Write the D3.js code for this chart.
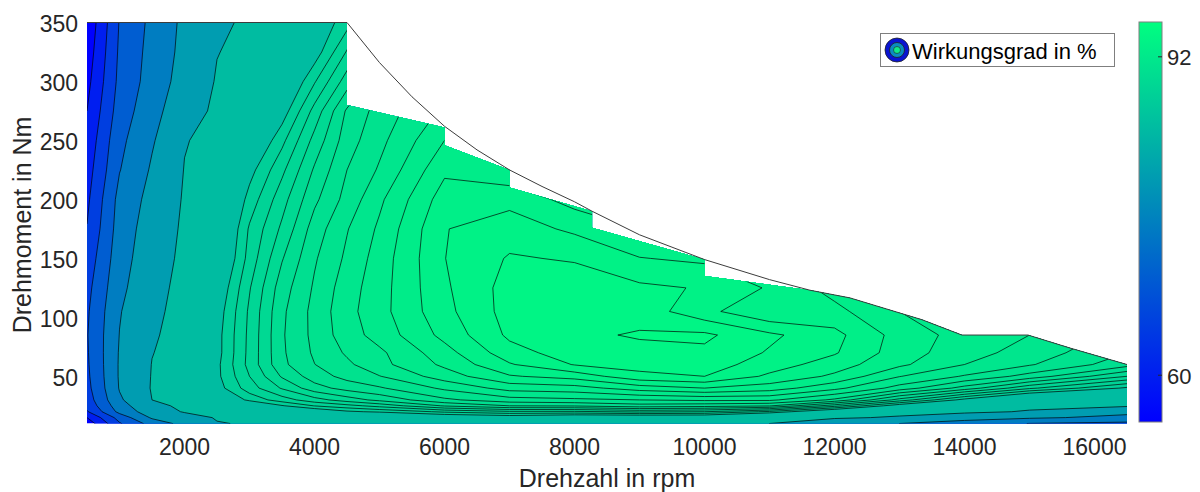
<!DOCTYPE html>
<html><head><meta charset="utf-8">
<script src="https://cdn.jsdelivr.net/npm/d3@7"></script>
<style>body{margin:0;background:#fff}svg{display:block}text{font-family:"Liberation Sans",Arial,sans-serif}</style>
</head><body><svg id="c" width="1200" height="492"></svg>
<script>
// ---------- data ----------
const rpm = [500,1000,1500,2000,2500,3000,3500,4000,4500,5000,6000,7000,8000,9000,10000,11000,12000,13000,14000,15000,16500];
const torque = [10,15,20,25,30,40,50,60,70,85,105,125,150,175,200,225,250,275,300,325,350];
const levels = [60,65,70,75,80,85,88,88.5,89,89.5,90,90.5,91,91.5,92,92.5,93,93.5,94,94.5];
// efficiency in %, one row per torque value, columns follow rpm
const eff10  = [57,69.5,77,81.7,84.8,85.3,85.7,86.0,86.2,86.3,86.5,86.5,86.5,86.3,85.8,85.0,82.3,80.0,77.5,74.9,73.8];
const eff15  = [60,72,80.7,83.3,85.3,85.6,86.0,86.3,86.5,86.6,87.3,87.5,87.2,87.2,87.2,86.4,85.5,84.6,82.3,80.7,78.8];
const eff20  = [64.5,76.4,82.9,85.3,85.76,86.25,86.75,87.4,87.9,88.1,88.6,88.9,88.9,89.1,89.0,88.4,87.2,86.1,85.8,84.7,81.2];
const eff25  = [66.5,77.9,84.2,85.6,86.26,87.05,87.95,88.52,88.83,89.18,90.05,90.5,90.55,90.8,90.7,90.55,89.2,87.6,86.8,85.8,85.5];
const eff30  = [67.5,79.3,85.0,86.1,87.1,88.16,88.76,89.3,89.75,90.14,90.9,91.3,91.4,91.5,91.6,91.6,90.9,89.3,87.8,86.5,86.3];
const eff40  = [68.5,80.3,85.3,86.45,87.76,88.77,89.55,90.3,90.69,90.94,91.6,92.2,92.3,92.75,93.0,92.75,92.15,91.3,90.3,89.1,87.9];
const eff50  = [69,80.5,85.2,86.5,87.87,89.0,90.06,90.75,91.17,91.48,92.25,92.95,93.2,93.85,94.0,93.4,92.9,92.02,91.45,90.8,89.5];
const eff60  = [69.3,80.5,85.1,86.45,87.87,89.17,90.38,90.99,91.4,91.85,92.6,93.45,94.03,94.2,94.25,93.75,93.25,92.6,92.0,91.55,90.7];
const eff70  = [69.5,80.4,84.9,86.4,87.8,89.15,90.42,91.08,91.57,91.9,92.8,93.8,94.25,94.35,94.4,93.95,93.55,92.75,92.2,91.8,91.0];
const eff85  = [69.7,80.1,84.6,86.3,87.8,89.13,90.44,91.14,91.77,92.2,93.15,94.1,94.4,94.55,94.6,94.1,93.65,92.8,92.3,92.0,91.3];
const eff105 = [69.3,79.7,84.2,86.2,87.7,89.09,90.4,91.16,91.84,92.32,93.35,94.2,94.45,94.3,93.65,93.05,93.15,92.5,92.1,91.7,91.0];
const eff125 = [68.5,78.8,83.8,86.05,87.5,88.96,90.27,91.07,91.77,92.29,93.42,94.2,94.3,94.1,93.96,93.44,92.8,92.1,91.8,91.4,90.7];
const eff150 = [67,77.9,83.2,85.8,87.14,88.7,89.96,90.94,91.6,92.23,93.49,94.05,93.95,93.52,93.4,92.9,92.4,91.7,91.4,91.0,90.3];
const eff175 = [65.2,77.2,82.6,85.6,86.96,88.57,89.6,90.74,91.47,92.09,93.48,93.75,93.4,93.0,92.7,92.4,92.0,91.3,91.0,90.6,89.9];
const eff200 = [64,76.6,81.6,85.4,86.8,88.2,89.3,90.39,91.18,91.9,93.25,93.35,92.8,92.5,92.1,92.0,91.6,90.9,90.6,90.2,89.5];
const eff225 = [62.8,74.8,80.6,85.14,86.47,87.8,88.88,90.07,91.0,91.56,92.9,92.6,92.2,92.0,91.6,91.5,91.2,90.5,90.2,89.8,89.1];
const eff250 = [61.5,73.75,79.5,84.8,86.07,87.2,88.36,89.67,90.77,91.36,92.5,92.0,91.7,91.5,91.1,91.0,90.8,90.1,89.8,89.4,88.7];
const eff275 = [60,72.3,78.3,83.3,85.7,86.7,87.7,89.18,90.58,91.2,92.1,91.5,91.2,91.0,90.7,90.6,90.4,89.7,89.4,89.0,88.3];
const eff300 = [58.5,71.3,77.1,82.1,85.3,86.2,87.16,88.45,89.76,90.8,91.7,91.1,90.8,90.6,90.3,90.2,90.0,89.3,89.0,88.6,87.9];
const eff325 = [57.2,70.8,76.7,81.4,84.9,85.9,86.8,87.7,89.05,90.4,91.3,90.7,90.4,90.2,89.9,89.8,89.6,88.9,88.6,88.2,87.5];
const eff350 = [56,70.3,76.25,81.1,84.2,85.7,86.6,87.5,88.3,90.0,90.9,90.3,90.0,89.8,89.5,89.4,89.2,88.5,88.2,87.8,87.1];
const efficiency = [eff10,eff15,eff20,eff25,eff30,eff40,eff50,eff60,eff70,eff85,eff105,eff125,eff150,eff175,eff200,eff225,eff250,eff275,eff300,eff325,eff350];

// maximum torque curve
const maxRpm = [500,4500,5000,5500,6000,6500,7000,7500,8000,8270,9000,10000,11000,11623,12238,13346,13960,14977,15623,16500];
const maxNm  = [350,350,316,287,262,242,225,211,198,190,170,149,132,123,116.5,98,85,85,74,60];
// outline of the measured (filled) operating range
const validRpm = [500,4500,4500,6000,6000,7000,7000,8270,8270,10000,10000,11623,12238,13346,13960,14977,15623,16500,16500,500];
const validNm  = [350,350,280,261,246,225,210,190,176,149,135,123,116.5,98,85,85,74,60,10,10];

const xTicks = [2000,4000,6000,8000,10000,12000,14000,16000];
const yTicks = [50,100,150,200,250,300,350];
const cbTicks = [60,92];
const cbDomain = [55.3,95.5];

// ---------- drawing ----------
const svg = d3.select("#c");
const x = d3.scaleLinear().domain([500,16500]).range([87,1127]);
const y = d3.scaleLinear().domain([10,350]).range([423.5,22.5]);
const color = d3.scaleLinear().domain(cbDomain).range(["#0000ff","#00ff80"]);

// padded grid (edge values repeated outside the plot so grid borders fall outside the clip)
const rpmP = [rpm[0]-500, ...rpm, rpm[rpm.length-1]+1000];
const tqP = [torque[0]-5, ...torque, torque[torque.length-1]+25];
const nx = rpmP.length, ny = tqP.length;
const vals = new Array(nx*ny);
for (let j=0;j<ny;j++){
  const jj = Math.min(Math.max(j-1,0),torque.length-1);
  for (let i=0;i<nx;i++){
    const ii = Math.min(Math.max(i-1,0),rpm.length-1);
    vals[j*nx+i] = efficiency[jj][ii];
  }
}
function interpIdx(arr,f){
  const n=arr.length;
  if (f<=0) return arr[0]+f*(arr[1]-arr[0]);
  if (f>=n-1) return arr[n-1]+(f-n+1)*(arr[n-1]-arr[n-2]);
  const i=Math.floor(f), t=f-i;
  return arr[i]+t*(arr[i+1]-arr[i]);
}
const px = c => x(interpIdx(rpmP, c-0.5));
const py = c => y(interpIdx(tqP, c-0.5));
const contours = d3.contours().size([nx,ny]).thresholds(levels)(vals);
function pathOf(mp){
  return mp.coordinates.map(poly=>poly.map(ring=>"M"+ring.map(p=>px(p[0]).toFixed(2)+","+py(p[1]).toFixed(2)).join("L")+"Z").join("")).join("");
}

const defs = svg.append("defs");
defs.append("clipPath").attr("id","valid").append("path")
  .attr("d", d3.line()(validRpm.map((r,i)=>[x(r), y(validNm[i])])) + "Z");

const g = svg.append("g").attr("clip-path","url(#valid)");
g.append("rect").attr("x",x(500)).attr("y",y(350)).attr("width",x(16500)-x(500)).attr("height",y(10)-y(350))
  .attr("fill", color(cbDomain[0]));
g.selectAll("path.f").data(contours).join("path").attr("class","f")
  .attr("d", d=>pathOf(d)).attr("fill", d=>color(d.value)).attr("fill-rule","evenodd");
g.selectAll("path.l").data(contours).join("path").attr("class","l")
  .attr("d", d=>pathOf(d)).attr("fill","none").attr("stroke","#000").attr("stroke-opacity",0.85).attr("stroke-width",0.8);

// max torque line
svg.append("path").attr("d", d3.line()(maxRpm.map((r,i)=>[x(r), y(maxNm[i])])))
  .attr("fill","none").attr("stroke","#3c3c3c").attr("stroke-width",1);

// axes labels
const tickCol = "#262626";
svg.selectAll("text.xt").data(xTicks).join("text").attr("class","xt")
  .attr("x", d=>x(d)).attr("y", 455).attr("text-anchor","middle")
  .attr("font-size",23).attr("fill",tickCol).text(d=>d);
svg.selectAll("text.yt").data(yTicks).join("text").attr("class","yt")
  .attr("x", 78).attr("y", d=>y(d)+9.5).attr("text-anchor","end")
  .attr("font-size",23).attr("fill",tickCol).text(d=>d);
svg.append("text").attr("x",607).attr("y",487).attr("text-anchor","middle")
  .attr("font-size",25).attr("fill",tickCol).text("Drehzahl in rpm");
svg.append("text").attr("transform","translate(31,225) rotate(-90)").attr("text-anchor","middle")
  .attr("font-size",25).attr("fill",tickCol).text("Drehmoment in Nm");

// colorbar
const cbX = 1139, cbW = 23;
const cbY = d3.scaleLinear().domain(cbDomain).range([422,22]);
const grad = defs.append("linearGradient").attr("id","cbg").attr("x1",0).attr("y1",1).attr("x2",0).attr("y2",0);
grad.append("stop").attr("offset","0%").attr("stop-color",color(cbDomain[0]));
grad.append("stop").attr("offset","100%").attr("stop-color",color(cbDomain[1]));
svg.append("rect").attr("x",cbX).attr("y",22).attr("width",cbW).attr("height",400)
  .attr("fill","url(#cbg)").attr("stroke","#7f7f7f").attr("stroke-width",1);
svg.selectAll("line.cbt").data(cbTicks).join("line").attr("class","cbt")
  .attr("x1",cbX+cbW-4).attr("x2",cbX+cbW).attr("y1",d=>cbY(d)).attr("y2",d=>cbY(d))
  .attr("stroke","#262626").attr("stroke-width",1);
svg.selectAll("text.cbl").data(cbTicks).join("text").attr("class","cbl")
  .attr("x",1167).attr("y",d=>cbY(d)+8.5).attr("font-size",22).attr("fill",tickCol).text(d=>d);

// legend
const lg = svg.append("g");
lg.append("rect").attr("x",880.5).attr("y",33.5).attr("width",234).attr("height",33)
  .attr("fill","#fff").attr("stroke","#7f7f7f").attr("stroke-width",1);
lg.append("circle").attr("cx",897).attr("cy",50).attr("r",12).attr("fill","#0a14d2").attr("stroke","#222").attr("stroke-width",0.8);
lg.append("circle").attr("cx",897).attr("cy",50).attr("r",7.5).attr("fill","#0a8cc0").attr("stroke","#222").attr("stroke-width",0.8);
lg.append("circle").attr("cx",897).attr("cy",50).attr("r",3.5).attr("fill","#10e88a").attr("stroke","#222").attr("stroke-width",0.6);
lg.append("text").attr("x",912).attr("y",58.5).attr("font-size",22).attr("fill","#000").text("Wirkungsgrad in %");
</script>
</body></html>
